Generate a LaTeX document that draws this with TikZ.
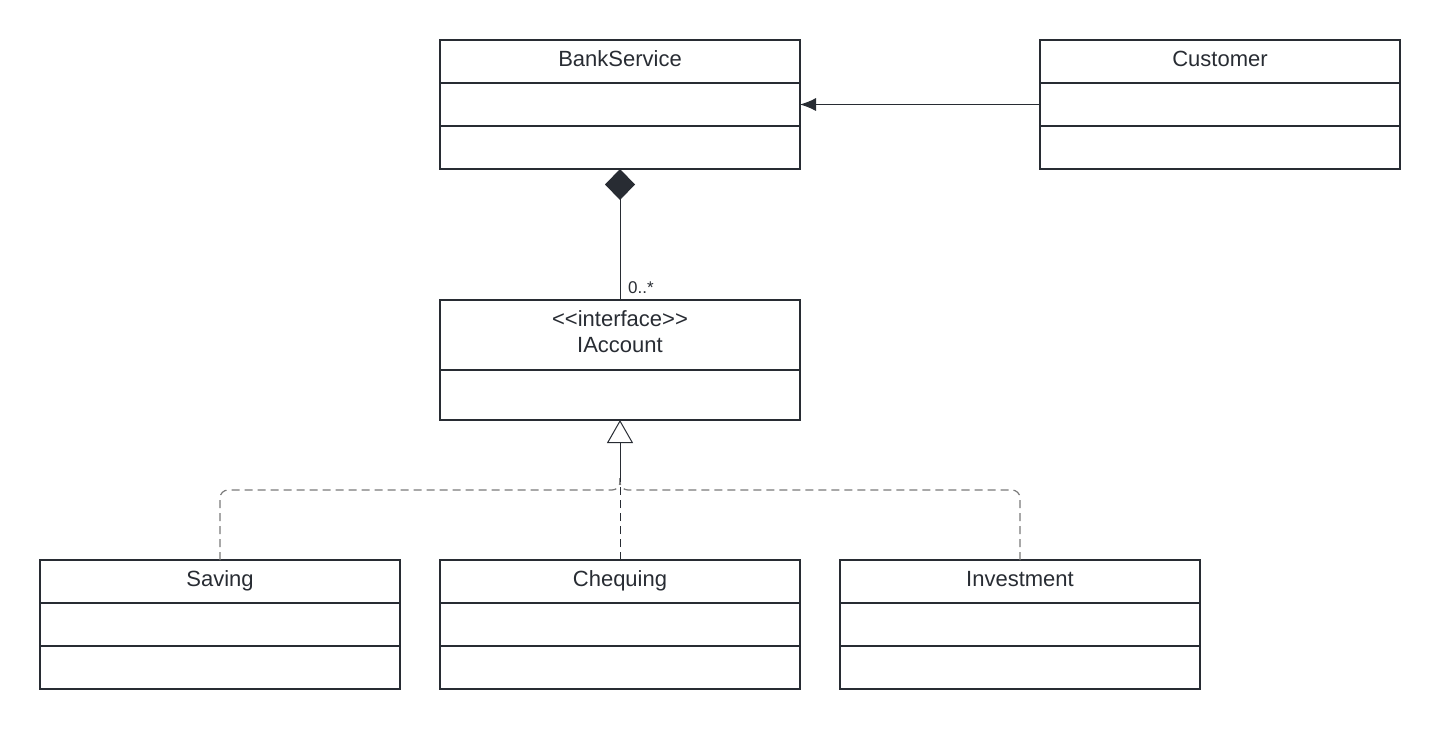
\documentclass[tikz,border=0pt]{standalone}
\usepackage{fontspec}
\setmainfont{Liberation Sans}
\usetikzlibrary{arrows.meta}
\definecolor{ink}{HTML}{282C33}
\definecolor{dash}{HTML}{7A7A7A}
\begin{document}
\begin{tikzpicture}[x=1pt,y=-1pt,
  classbox/.style={draw=ink,line width=2pt,minimum width=360pt,minimum height=129pt,anchor=north west,inner sep=0pt,outer sep=0pt},
  ifacebox/.style={draw=ink,line width=2pt,minimum width=360pt,minimum height=120pt,anchor=north west,inner sep=0pt,outer sep=0pt},
  divider/.style={draw=ink,line width=2pt},
  title/.style={font=\fontsize{22}{27}\selectfont,text=ink,inner sep=0pt,anchor=base},
  conn/.style={draw=ink,line width=1pt},
  real/.style={draw=dash,line width=1.2pt,dash pattern=on 8pt off 5pt,rounded corners=8pt},
  lbl/.style={font=\fontsize{17}{20}\selectfont,text=ink,inner sep=0pt,anchor=base west}]
\useasboundingbox (0,0) rectangle (1440,729);
% classes
\node[classbox] (bank) at (440,40) {};
\node[classbox] (cust) at (1040,40) {};
\node[ifacebox] (iacc) at (440,300) {};
\node[classbox] (sav) at (40,560) {};
\node[classbox] (cheq) at (440,560) {};
\node[classbox] (inv) at (840,560) {};
% dividers
\foreach \b in {bank,cust,sav,cheq,inv}{
  \draw[divider] ([yshift=-43pt]\b.north west) -- ([yshift=-43pt]\b.north east);
  \draw[divider] ([yshift=-86pt]\b.north west) -- ([yshift=-86pt]\b.north east);
}
\draw[divider] ([yshift=-70pt]iacc.north west) -- ([yshift=-70pt]iacc.north east);
% titles
\node[title] (tbank) at (620,66) {BankService};
\node[title] (tcust) at (1220,66) {Customer};
\node[title] (tster) at (620,326) {\mbox{<}\mbox{<}interface\mbox{>}\mbox{>}};
\node[title] (tiacc) at (620,352) {IAccount};
\node[title] (tsav) at (220,586) {Saving};
\node[title] (tcheq) at (620,586) {Chequing};
\node[title] (tinv) at (1020,586) {Investment};
% association
\draw[conn,-{Latex[length=16pt,width=13pt]}] (cust.west) -- (bank.east);
% composition
\draw[conn,-{Diamond[length=31pt,width=30pt,fill=ink]}] (iacc.north) -- (bank.south);
\node[lbl] (mult) at (628,293) {0..*};
% realization
\coordinate (jn) at (620,478);
\draw[conn,-{Triangle[open,length=23pt,width=26pt,fill=white]}] (jn) -- (iacc.south);
\draw[real] (sav.north) -- (220,490) -- (620,490) -- (jn);
\draw[real] (inv.north) -- (1020,490) -- (620,490) -- (jn);
\draw[real,draw=ink,line width=1pt] (cheq.north) -- (jn);
\end{tikzpicture}
\end{document}
